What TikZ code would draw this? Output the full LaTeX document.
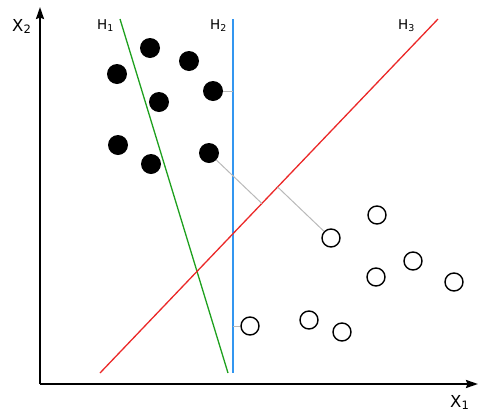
\documentclass[tikz,border=0pt]{standalone}
\usepackage{fontspec}
\setmainfont{DejaVu Sans}
\usetikzlibrary{arrows.meta,calc}
\definecolor{hgreen}{RGB}{30,160,30}
\definecolor{hblue}{RGB}{50,150,240}
\definecolor{hred}{RGB}{235,40,40}
\definecolor{sgrey}{RGB}{185,185,185}
\tikzset{
  axis/.style={line width=2pt,-{Stealth[length=12pt,width=8pt,inset=1.5pt]}},
  posdot/.style={circle,fill=black,minimum size=20pt,inner sep=0pt},
  negdot/.style={circle,draw=black,line width=1.4pt,fill=white,minimum size=18pt,inner sep=0pt},
  hplane/.style={line width=1.3pt},
  supp/.style={draw=sgrey,line width=1pt},
  axlabel/.style={anchor=base west,inner sep=0pt,font=\fontsize{16.5}{18}\selectfont},
  hlabel/.style={anchor=base west,inner sep=0pt,font=\fontsize{13.5}{15}\selectfont}
}
\begin{document}
\begin{tikzpicture}[x=1pt,y=-1pt]
\useasboundingbox (0,0) rectangle (480,416);
% axes
\coordinate (o) at (40,384);
\coordinate (ytop) at (40,7);
\coordinate (xend) at (478,384);
\draw[axis] (o) -- (ytop);
\draw[axis] (o) -- (xend);
\node[axlabel] (lx2) at (12,31) {X\textsubscript{2}};
\node[axlabel] (lx1) at (450,407) {X\textsubscript{1}};
% hyperplanes
\coordinate (h1a) at (120,19); \coordinate (h1b) at (228,373);
\coordinate (h2a) at (233,19); \coordinate (h2b) at (233,373);
\coordinate (h3a) at (438,19); \coordinate (h3b) at (100,373);
\draw[hplane,hgreen] (h1a) -- (h1b);
\draw[hplane,hblue] (h2a) -- (h2b);
\draw[hplane,hred] (h3a) -- (h3b);
\node[hlabel] (lh1) at (97,29) {H\textsubscript{1}};
\node[hlabel] (lh2) at (210,29) {H\textsubscript{2}};
\node[hlabel] (lh3) at (398,29) {H\textsubscript{3}};
% positive samples
\node[posdot] (p1) at (150,48) {};
\node[posdot] (p2) at (189,61) {};
\node[posdot] (p3) at (117,74) {};
\node[posdot] (p4) at (213,91) {};
\node[posdot] (p5) at (159,102) {};
\node[posdot] (p6) at (118,145) {};
\node[posdot] (p7) at (151,164) {};
\node[posdot] (p8) at (209,153) {};
% negative samples
\node[negdot] (n1) at (250,326) {};
\node[negdot] (n2) at (309,320) {};
\node[negdot] (n3) at (342,332) {};
\node[negdot] (n4) at (331,238) {};
\node[negdot] (n5) at (377,215) {};
\node[negdot] (n6) at (376,277) {};
\node[negdot] (n7) at (413,261) {};
\node[negdot] (n8) at (454,282) {};
% support distances
\coordinate (f4) at (233,91);
\coordinate (f1) at (233,326);
\coordinate (f8) at ($(h3a)!(p8)!(h3b)$);
\coordinate (fn4) at ($(h3a)!(n4)!(h3b)$);
\draw[supp] (p4) -- (f4);
\draw[supp] (n1) -- (f1);
\draw[supp] (p8) -- (f8);
\draw[supp] (n4) -- (fn4);
\end{tikzpicture}
\end{document}
